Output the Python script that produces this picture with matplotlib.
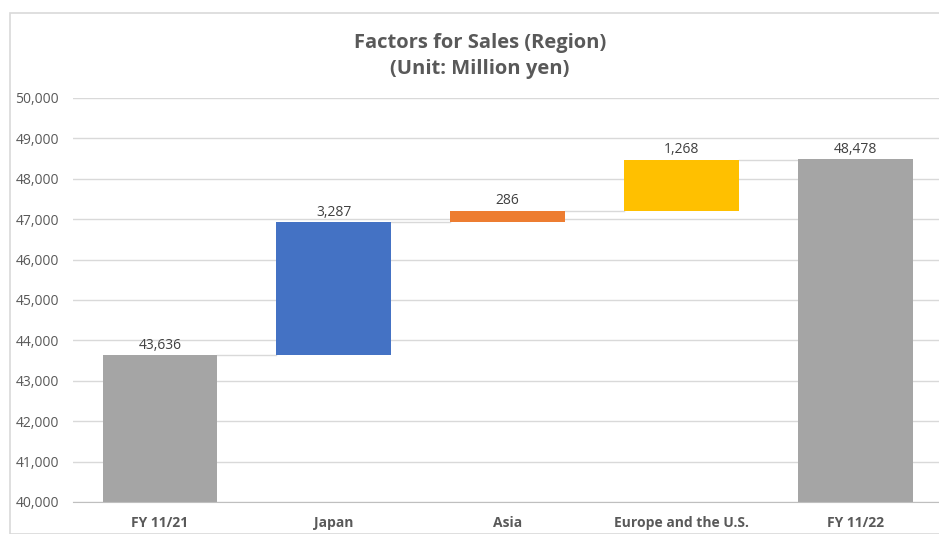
import matplotlib.pyplot as plt
from matplotlib.patches import Rectangle

# data (million yen)
categories = ['FY 11/21', 'Japan', 'Asia', 'Europe and the U.S.', 'FY 11/22']
changes = [43636, 3287, 286, 1268, 48478]
is_total = [True, False, False, False, True]
colors = ['#A5A5A5', '#4472C4', '#ED7D31', '#FFC000', '#A5A5A5']
labels = ['43,636', '3,287', '286', '1,268', '48,478']
y_ticks = list(range(40000, 50001, 1000))

plt.rcParams['font.family'] = ['Open Sans', 'DejaVu Sans']

fig = plt.figure(figsize=(9.39, 5.34), dpi=100)
ax = fig.add_axes([73 / 939, 32 / 534, 866 / 939, 404 / 534])

# outer chart border
fig.patches.append(Rectangle((10 / 939, 0.0), 1.0, (534 - 13) / 534, transform=fig.transFigure,
                             fill=False, edgecolor='#D9D9D9', lw=1.2, zorder=0))

ymin = 40000
bottoms, tops = [], []
running = 0
for v, tot in zip(changes, is_total):
    if tot:
        b, t = ymin, v
        running = v
    else:
        b, t = running, running + v
        running += v
    bottoms.append(b)
    tops.append(t)

x = range(len(categories))
ax.bar(x, [t - b for b, t in zip(bottoms, tops)], bottom=bottoms, width=0.66,
       color=colors, zorder=3)

# connector lines
for i in range(len(categories) - 1):
    ax.plot([i + 0.33, i + 1 - 0.33], [tops[i], tops[i]], color='#D9D9D9', lw=1, zorder=2)

for i, (t, lab) in enumerate(zip(tops, labels)):
    ax.text(i, t + 60, lab, ha='center', va='bottom', fontsize=10, color='#404040')

ax.set_ylim(40000, 50000)
ax.set_xlim(-0.5, 4.48)
ax.set_yticks(y_ticks)
ax.set_yticklabels([f'{t:,}' for t in y_ticks])
ax.set_xticks(list(x))
ax.set_xticklabels(categories, fontweight='bold')
ax.tick_params(axis='y', length=0, pad=10, labelsize=10, labelcolor='#595959')
ax.tick_params(axis='x', length=0, pad=10, labelsize=10, labelcolor='#595959')
ax.grid(axis='y', color='#D9D9D9', lw=1, zorder=0)
ax.set_axisbelow(True)
for s in ['top', 'right', 'left']:
    ax.spines[s].set_visible(False)
ax.spines['bottom'].set_color('#BFBFBF')
ax.spines['bottom'].set_zorder(4)

fig.text(480 / 939, 1 - 56 / 534, 'Factors for Sales (Region)\n(Unit: Million yen)', ha='center',
         va='center', fontsize=14.5, fontweight='bold', color='#595959', linespacing=1.45)

fig.savefig('out.png', dpi=100)
